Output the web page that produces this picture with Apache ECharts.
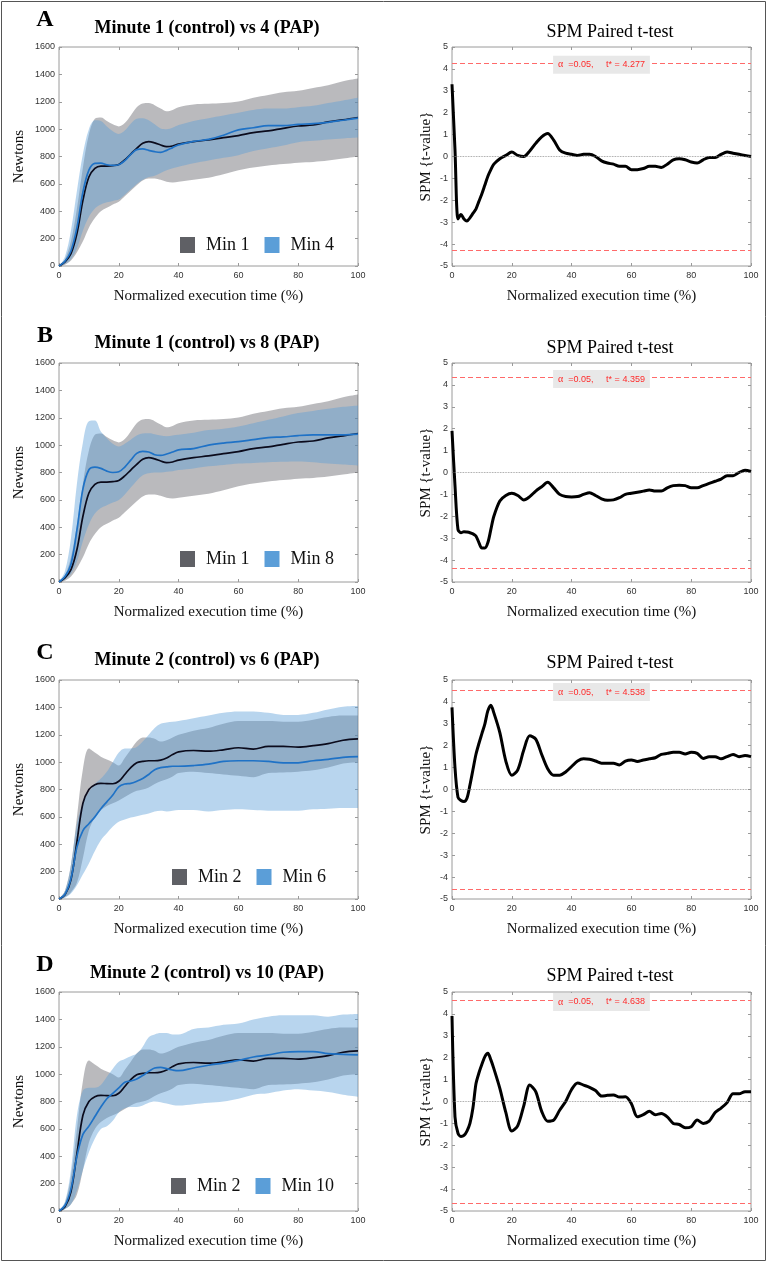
<!DOCTYPE html>
<html><head><meta charset="utf-8">
<script src="https://cdn.jsdelivr.net/npm/echarts@6/dist/echarts.min.js"></script>
<style>html,body{margin:0;padding:0;background:#fff}#c{width:768px;height:1263px}</style>
</head><body><div id="c"></div>
<script>
// ---------- DATA ----------
const xForce = [0,2,4,6,8,10,12,14,16,18,20,22,24,26,28,30,32,34,36,38,40,45,50,55,60,65,70,75,80,85,90,95,100];
const min1Mean = [0,30,90,237,480,650,713,730,730,733,742,775,818,860,897,909,900,884,872,877,891,909,921,938,953,975,987,1006,1023,1030,1053,1068,1085];
const min1Hi   = [0,50,180,420,720,960,1075,1085,1060,1035,1020,1045,1100,1160,1188,1190,1175,1150,1130,1140,1160,1180,1185,1190,1202,1230,1250,1270,1280,1300,1320,1350,1370];
const min1Lo   = [0,10,40,100,180,280,350,400,425,450,470,510,550,590,625,640,640,630,615,610,615,630,645,670,700,720,735,745,755,760,770,785,800];
const min4Mean = [0,35,110,280,540,700,750,752,740,735,740,770,815,850,855,845,835,830,845,865,885,910,925,955,995,1010,1025,1025,1035,1040,1050,1065,1080];
const min4Hi   = [0,70,260,550,820,1000,1065,1060,1020,985,965,990,1040,1075,1080,1065,1035,1005,1000,1010,1030,1060,1080,1100,1120,1140,1150,1150,1160,1170,1190,1210,1230];
const min4Lo   = [0,15,50,130,260,360,420,450,465,475,485,520,560,600,630,650,660,680,700,715,725,750,770,790,810,840,860,880,905,915,925,932,938];
const min8Mean = [0,40,130,380,680,820,840,830,810,800,805,840,890,940,955,950,930,925,935,950,965,975,1000,1015,1025,1040,1055,1060,1070,1075,1075,1075,1080];
const min8Hi   = [0,80,320,720,1020,1175,1180,1100,1050,1010,990,1010,1040,1070,1085,1087,1080,1070,1065,1070,1075,1090,1110,1120,1136,1160,1185,1210,1234,1250,1265,1280,1290];
const min8Lo   = [0,20,60,150,300,420,500,540,560,580,600,640,690,740,780,795,800,800,805,810,818,830,845,855,865,870,875,878,880,875,865,858,850];
const min2Mean = [0,30,140,420,700,800,835,845,843,842,860,910,960,995,1005,1010,1010,1015,1030,1055,1075,1085,1080,1090,1105,1095,1115,1115,1110,1120,1135,1160,1170];
const min2Hi   = [0,60,250,600,950,1100,1070,1040,1020,1000,975,1030,1090,1150,1180,1180,1170,1150,1160,1180,1200,1230,1250,1280,1300,1300,1300,1295,1295,1310,1330,1340,1340];
const min2Lo   = [0,15,50,120,300,500,600,650,680,700,720,745,770,790,800,815,840,860,875,895,920,930,920,910,900,890,920,925,930,940,960,990,1000];
const min6Mean = [0,35,150,380,500,550,600,660,710,760,820,840,845,860,880,910,945,960,965,970,970,975,985,1005,1010,1010,1005,995,995,1010,1020,1035,1040];
const min6Hi   = [0,60,250,550,700,780,840,880,930,1000,1070,1100,1100,1110,1150,1200,1250,1280,1290,1295,1300,1320,1340,1360,1370,1370,1360,1345,1345,1360,1385,1405,1410];
const min6Lo   = [0,10,40,100,180,260,350,430,480,530,565,580,595,605,615,625,640,645,640,645,650,650,640,650,655,650,645,645,645,655,660,665,665];
const min10Mean= [0,40,160,400,560,620,690,760,820,860,900,940,950,965,990,1020,1045,1050,1040,1030,1025,1045,1065,1080,1100,1125,1140,1160,1165,1165,1150,1145,1140];
const min10Hi  = [0,70,300,700,880,900,900,920,980,1040,1090,1110,1130,1150,1200,1270,1290,1300,1300,1290,1290,1330,1340,1360,1370,1400,1420,1430,1430,1430,1420,1435,1440];
const min10Lo  = [0,15,50,150,300,430,530,600,620,660,720,750,760,760,770,790,800,795,785,775,770,780,790,800,820,850,860,880,890,880,870,850,835];

const xSpm = [0,1,2,3,4,5,6,7,8,9,10,11,12,13,14,16,18,20,22,24,26,28,30,32,34,36,38,40,42,44,46,48,50,52,54,56,58,60,62,64,66,68,70,72,74,76,78,80,82,84,86,88,90,92,94,96,98,100];
const spmA = [3.3,0.3,-2.85,-2.65,-2.85,-2.95,-2.8,-2.6,-2.4,-2.05,-1.7,-1.3,-0.9,-0.6,-0.35,-0.1,0.05,0.2,0.05,0.0,0.25,0.6,0.9,1.05,0.75,0.3,0.15,0.1,0.05,0.1,0.1,0.0,-0.2,-0.3,-0.35,-0.45,-0.45,-0.6,-0.6,-0.55,-0.45,-0.45,-0.5,-0.35,-0.15,-0.1,-0.15,-0.25,-0.3,-0.15,-0.05,-0.05,0.1,0.2,0.15,0.1,0.05,0.0];
const spmB = [1.9,-0.6,-2.6,-2.75,-2.7,-2.72,-2.75,-2.8,-2.9,-3.2,-3.45,-3.45,-3.2,-2.6,-2.0,-1.3,-1.05,-0.95,-1.05,-1.25,-1.1,-0.85,-0.65,-0.45,-0.7,-1.0,-1.1,-1.12,-1.1,-1.0,-0.92,-1.05,-1.2,-1.27,-1.25,-1.15,-1.0,-0.95,-0.9,-0.85,-0.8,-0.85,-0.85,-0.7,-0.6,-0.58,-0.6,-0.7,-0.7,-0.6,-0.5,-0.4,-0.3,-0.15,-0.15,0.0,0.1,0.05];
const spmC = [3.75,1.0,-0.35,-0.5,-0.55,-0.4,0.2,0.9,1.6,2.1,2.55,3.0,3.6,3.85,3.5,2.6,1.3,0.65,0.9,1.8,2.45,2.3,1.6,0.95,0.65,0.65,0.8,1.05,1.3,1.4,1.38,1.3,1.2,1.2,1.2,1.12,1.3,1.35,1.28,1.35,1.4,1.45,1.6,1.65,1.7,1.7,1.62,1.7,1.65,1.42,1.5,1.5,1.4,1.5,1.6,1.5,1.55,1.5];
const spmD = [3.9,-0.7,-1.45,-1.6,-1.55,-1.35,-1.0,-0.3,0.8,1.3,1.7,2.05,2.2,1.9,1.5,0.6,-0.5,-1.35,-1.1,-0.2,0.75,0.45,-0.45,-0.9,-0.85,-0.4,0.0,0.55,0.85,0.75,0.65,0.5,0.25,0.28,0.3,0.2,0.22,-0.1,-0.7,-0.6,-0.45,-0.6,-0.55,-0.7,-1.0,-1.05,-1.2,-1.15,-0.85,-1.0,-0.9,-0.5,-0.3,-0.05,0.35,0.35,0.45,0.45];
const tCrit = [4.277, 4.359, 4.538, 4.638];

const panelLetters = ['A','B','C','D'];
const leftTitles = ['Minute 1 (control) vs 4 (PAP)','Minute 1 (control) vs 8 (PAP)','Minute 2 (control) vs 6 (PAP)','Minute 2 (control) vs 10 (PAP)'];
const ctrlNames = ['Min 1','Min 1','Min 2','Min 2'];
const papNames = ['Min 4','Min 8','Min 6','Min 10'];
const forceTicks = {min:0, max:1600, interval:200};
const timeTicks = {min:0, max:100, interval:20};
const spmTicks = {min:-5, max:5, interval:1};

// ---------- BUILD ----------
const ctrlSets = [[min1Mean,min1Hi,min1Lo],[min1Mean,min1Hi,min1Lo],[min2Mean,min2Hi,min2Lo],[min2Mean,min2Hi,min2Lo]];
const papSets = [[min4Mean,min4Hi,min4Lo],[min8Mean,min8Hi,min8Lo],[min6Mean,min6Hi,min6Lo],[min10Mean,min10Hi,min10Lo]];
const spmSets = [spmA, spmB, spmC, spmD];

const SERIF = '"Liberation Serif","Times New Roman",serif';
const SANS = '"Liberation Sans",Arial,Helvetica,sans-serif';
const rowTop = [47, 363, 680, 992];
const plotH = 219, plotW = 299, colLeft = [59, 452];
const legendPos = [[180,236],[180,550],[172,868],[171,1177]];
const leftTitleY = [28, 343, 660, 973];
const rightTitleY = [32, 348, 663, 976];
const letterY = [20, 336, 653, 965];

const GRAY_S = '#5f6065', GRAY_A = 'rgba(95,96,101,0.43)';
const BLUE_S = '#5b9ed8', BLUE_A = 'rgba(91,158,216,0.43)';
const AX = '#9a9a9a';
const RED_DASH = '#ff6a6a';

const pairs = (xs, ys) => xs.map((x, i) => [x, ys[i]]);
// value first so that stacking happens on the y (value) dimension
const pairsYX = (xs, ys) => xs.map((x, i) => [ys[i], x]);
const diff = (hi, lo) => hi.map((v, i) => v - lo[i]);

const grids = [], xAxes = [], yAxes = [], series = [], legends = [], graphics = [];

function addAxes(g, xt, yt, xName, yName, yGap) {
  const tickLbl = {fontFamily: SANS, fontSize: 9, color: '#333', formatter: v => String(v)};
  xAxes.push({gridIndex: g, type: 'value', position: 'bottom', min: xt.min, max: xt.max, interval: xt.interval,
    axisLine: {show: false, onZero: false}, axisTick: {inside: true, length: 3, lineStyle: {color: AX}},
    axisLabel: Object.assign({margin: 5}, tickLbl), splitLine: {show: false},
    name: xName, nameLocation: 'middle', nameGap: 23, nameTextStyle: {fontFamily: SERIF, fontSize: 15, color: '#111'}});
  xAxes.push({gridIndex: g, type: 'value', position: 'top', min: xt.min, max: xt.max, interval: xt.interval,
    axisLine: {show: false, onZero: false}, axisTick: {inside: true, length: 3, lineStyle: {color: AX}},
    axisLabel: {show: false}, splitLine: {show: false}});
  yAxes.push({gridIndex: g, type: 'value', position: 'left', min: yt.min, max: yt.max, interval: yt.interval,
    axisLine: {show: false, onZero: false}, axisTick: {inside: true, length: 3, lineStyle: {color: AX}},
    axisLabel: Object.assign({margin: 4}, tickLbl), splitLine: {show: false},
    name: yName, nameLocation: 'middle', nameGap: yGap, nameTextStyle: {fontFamily: SERIF, fontSize: 15, color: '#111'}});
  yAxes.push({gridIndex: g, type: 'value', position: 'right', min: yt.min, max: yt.max, interval: yt.interval,
    axisLine: {show: false, onZero: false}, axisTick: {inside: true, length: 3, lineStyle: {color: AX}},
    axisLabel: {show: false}, splitLine: {show: false}});
}

for (let r = 0; r < 4; r++) {
  const gL = r * 2, gR = r * 2 + 1;
  grids.push({left: colLeft[0], top: rowTop[r], width: plotW, height: plotH, show: true, borderColor: AX, borderWidth: 1});
  grids.push({left: colLeft[1], top: rowTop[r], width: plotW, height: plotH, show: true, borderColor: AX, borderWidth: 1});
  addAxes(gL, timeTicks, forceTicks, 'Normalized execution time (%)', 'Newtons', 32);
  addAxes(gR, timeTicks, spmTicks, 'Normalized execution time (%)', 'SPM {t-value}', 18);

  const bands = [[ctrlSets[r], ctrlNames[r], GRAY_S, GRAY_A, 'c'], [papSets[r], papNames[r], BLUE_S, BLUE_A, 'p']];
  bands.forEach(([set, nm, solid, alpha, key]) => {
    const st = 'stk' + r + key;
    series.push({type: 'line', name: nm + ' lower', xAxisIndex: 2 * gL, yAxisIndex: 2 * gL, stack: st,
      data: pairsYX(xForce, set[2]), encode: {x: 1, y: 0},
      symbol: 'none', smooth: 0.35, lineStyle: {opacity: 0}, silent: true, z: 1});
    series.push({type: 'line', name: nm, xAxisIndex: 2 * gL, yAxisIndex: 2 * gL, stack: st,
      data: pairsYX(xForce, diff(set[1], set[2])), encode: {x: 1, y: 0},
      symbol: 'none', smooth: 0.35, lineStyle: {opacity: 0}, color: solid, itemStyle: {color: solid},
      areaStyle: {color: alpha, opacity: 1}, silent: true, z: 1});
  });
  series.push({type: 'line', name: ctrlNames[r] + ' mean', xAxisIndex: 2 * gL, yAxisIndex: 2 * gL, data: pairs(xForce, ctrlSets[r][0]),
    symbol: 'none', smooth: 0.35, lineStyle: {color: '#0b0b1c', width: 1.7}, silent: true, z: 3});
  series.push({type: 'line', name: papNames[r] + ' mean', xAxisIndex: 2 * gL, yAxisIndex: 2 * gL, data: pairs(xForce, papSets[r][0]),
    symbol: 'none', smooth: 0.35, lineStyle: {color: '#1f72c6', width: 1.7}, silent: true, z: 4});

  legends.push({left: legendPos[r][0], top: legendPos[r][1], orient: 'horizontal', padding: 0, itemGap: 15,
    itemWidth: 15, itemHeight: 16, selectedMode: false,
    textStyle: {fontFamily: SERIF, fontSize: 18, color: '#111', lineHeight: 16, padding: [0, 0, 0, 6]},
    data: [{name: ctrlNames[r], icon: 'rect', itemStyle: {color: GRAY_S, opacity: 1}},
           {name: papNames[r], icon: 'rect', itemStyle: {color: BLUE_S, opacity: 1}}]});

  const t = tCrit[r];
  series.push({type: 'line', name: 'SPM ' + panelLetters[r], xAxisIndex: 2 * gR, yAxisIndex: 2 * gR, data: pairs(xSpm, spmSets[r]),
    symbol: 'none', smooth: 0.3, lineStyle: {color: '#000', width: 3}, silent: true, z: 3,
    markLine: {silent: true, symbol: 'none', label: {show: false}, animation: false,
      data: [{yAxis: 0, lineStyle: {type: 'dotted', color: '#888', width: 0.8}},
             {yAxis: t, lineStyle: {type: [5, 3], color: RED_DASH, width: 1}},
             {yAxis: -t, lineStyle: {type: [5, 3], color: RED_DASH, width: 1}}]},
    markPoint: {silent: true, symbol: 'rect', symbolSize: 0, animation: false,
      data: [{coord: [50, t], label: {show: true, position: 'inside', offset: [0, 2],
        formatter: '{a|α}  =0.05,     t* = ' + t.toFixed(3),
        fontFamily: SANS, fontSize: 9, color: '#ff2a2a', backgroundColor: '#e8e8e8', padding: [4, 5, 4, 5],
        rich: {a: {fontFamily: SERIF, fontSize: 10, color: '#ff2a2a'}}}}]}});

  graphics.push({type: 'text', x: 45, y: letterY[r], style: {text: panelLetters[r], font: 'bold 24px ' + SERIF, fill: '#000', textAlign: 'center', textVerticalAlign: 'middle'}});
  graphics.push({type: 'text', x: 207, y: leftTitleY[r], style: {text: leftTitles[r], font: 'bold 18px ' + SERIF, fill: '#000', textAlign: 'center', textVerticalAlign: 'middle'}});
  graphics.push({type: 'text', x: 610, y: rightTitleY[r], style: {text: 'SPM Paired t-test', font: '18px ' + SERIF, fill: '#000', textAlign: 'center', textVerticalAlign: 'middle'}});
}
graphics.push({type: 'rect', shape: {x: 1.5, y: 1.5, width: 764, height: 1259}, style: {fill: 'none', stroke: '#555', lineWidth: 1}, z: 100});

const chart = echarts.init(document.getElementById('c'), null, {renderer: 'canvas'});
chart.setOption({
  animation: false,
  backgroundColor: '#fff',
  grid: grids, xAxis: xAxes, yAxis: yAxes, series: series, legend: legends, graphic: graphics
});
</script></body></html>
